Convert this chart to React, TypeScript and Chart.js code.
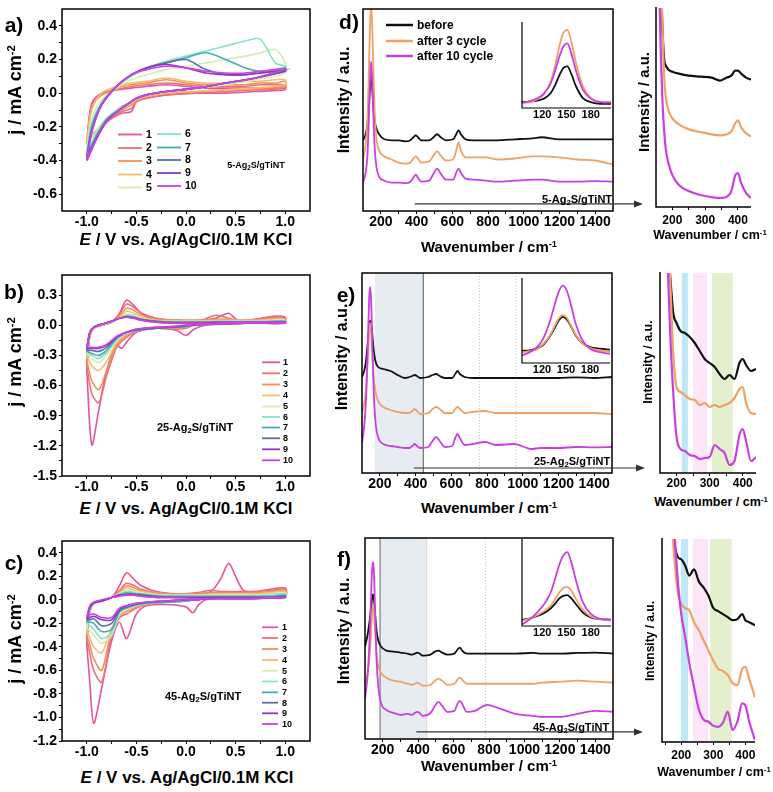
import React, { useEffect, useRef } from 'react';
import { Chart, registerables } from 'chart.js';

Chart.register(...registerables);

const FONT = 'Arial, "Liberation Sans", Helvetica, sans-serif';
Chart.defaults.font.family = FONT;
Chart.defaults.color = '#000';

// ================= CV data =================
const cvCycles = ['1', '2', '3', '4', '5', '6', '7', '8', '9', '10'];
const cvColors = ['#e4559f', '#ef6f78', '#f09257', '#f2bd6c', '#d6ecb0', '#86e3cc', '#44aebd', '#5b6fa3', '#8d35c4', '#d23ee6'];
const cvXTicks = [-1.0, -0.5, 0.0, 0.5, 1.0];
const cvXMinor = [-0.75, -0.25, 0.25, 0.75];
const cvAYTicks = [-0.6, -0.4, -0.2, 0.0, 0.2, 0.4];
const cvAYMinor = [-0.5, -0.3, -0.1, 0.1, 0.3];
const cvBYTicks = [-1.5, -1.2, -0.9, -0.6, -0.3, 0.0, 0.3];
const cvBYMinor = [-1.35, -1.05, -0.75, -0.45, -0.15, 0.15];
const cvCYTicks = [-1.2, -1.0, -0.8, -0.6, -0.4, -0.2, 0.0, 0.2, 0.4];
const cvCYMinor = [-1.1, -0.9, -0.7, -0.5, -0.3, -0.1, 0.1, 0.3];

// panel a (5-Ag2S/gTiNT)
const aEUp = [-1.0, -0.95, -0.85, -0.7, -0.55, -0.4, -0.2, 0.0, 0.2, 0.4, 0.6, 0.75, 0.9, 1.0];
const aEDown = [1.0, 0.7, 0.4, 0.1, -0.2, -0.4, -0.5, -0.55, -0.65, -0.8, -0.9, -1.0];
const aJUp = [
  [-0.28, -0.06, 0.0, 0.02, 0.03, 0.04, 0.05, 0.04, 0.03, 0.03, 0.03, 0.03, 0.03, 0.04],
  [-0.30, -0.07, -0.01, 0.02, 0.04, 0.05, 0.06, 0.05, 0.04, 0.04, 0.04, 0.05, 0.05, 0.05],
  [-0.30, -0.09, -0.01, 0.03, 0.05, 0.06, 0.08, 0.06, 0.05, 0.05, 0.05, 0.06, 0.06, 0.07],
  [-0.28, -0.10, 0.0, 0.04, 0.06, 0.07, 0.09, 0.07, 0.06, 0.06, 0.07, 0.07, 0.08, 0.08],
  [-0.32, -0.15, -0.04, 0.03, 0.08, 0.11, 0.14, 0.16, 0.18, 0.20, 0.22, 0.24, 0.26, 0.18],
  [-0.35, -0.18, -0.06, 0.04, 0.10, 0.15, 0.19, 0.22, 0.25, 0.28, 0.31, 0.32, 0.18, 0.16],
  [-0.37, -0.20, -0.06, 0.04, 0.11, 0.15, 0.18, 0.21, 0.24, 0.20, 0.15, 0.13, 0.14, 0.15],
  [-0.38, -0.22, -0.07, 0.04, 0.11, 0.15, 0.18, 0.20, 0.14, 0.11, 0.11, 0.12, 0.13, 0.14],
  [-0.40, -0.23, -0.07, 0.04, 0.11, 0.15, 0.17, 0.15, 0.12, 0.11, 0.11, 0.12, 0.13, 0.14],
  [-0.40, -0.23, -0.07, 0.04, 0.11, 0.14, 0.16, 0.15, 0.13, 0.12, 0.12, 0.13, 0.14, 0.14],
];
const aJDown = [
  [0.02, 0.01, 0.0, 0.0, -0.01, -0.03, -0.05, -0.11, -0.12, -0.17, -0.22, -0.28],
  [0.03, 0.02, 0.01, 0.0, -0.01, -0.03, -0.05, -0.09, -0.11, -0.17, -0.23, -0.30],
  [0.04, 0.03, 0.02, 0.01, 0.0, -0.02, -0.04, -0.07, -0.10, -0.16, -0.22, -0.30],
  [0.05, 0.03, 0.02, 0.01, 0.0, -0.02, -0.04, -0.06, -0.09, -0.15, -0.22, -0.28],
  [0.12, 0.08, 0.05, 0.03, 0.01, -0.01, -0.03, -0.05, -0.08, -0.15, -0.22, -0.32],
  [0.15, 0.09, 0.06, 0.03, 0.01, -0.01, -0.03, -0.05, -0.08, -0.15, -0.24, -0.35],
  [0.14, 0.09, 0.06, 0.03, 0.01, -0.01, -0.03, -0.05, -0.09, -0.16, -0.25, -0.37],
  [0.13, 0.09, 0.06, 0.03, 0.01, -0.01, -0.03, -0.05, -0.09, -0.16, -0.26, -0.38],
  [0.13, 0.09, 0.06, 0.03, 0.01, -0.01, -0.03, -0.05, -0.09, -0.17, -0.27, -0.40],
  [0.14, 0.09, 0.06, 0.03, 0.01, -0.01, -0.03, -0.05, -0.09, -0.17, -0.27, -0.40],
];

// panel b (25-Ag2S/gTiNT)
const bEUp = [-1.0, -0.97, -0.93, -0.85, -0.75, -0.67, -0.6, -0.53, -0.45, -0.3, -0.1, 0.15, 0.3, 0.43, 0.52, 0.7, 0.88, 1.0];
const bEDown = [1.0, 0.6, 0.2, 0.08, 0.0, -0.1, -0.3, -0.5, -0.6, -0.65, -0.7, -0.8, -0.88, -0.95, -1.0];
const bJUp = [
  [-0.45, -0.10, -0.02, 0.0, 0.03, 0.12, 0.25, 0.20, 0.12, 0.07, 0.05, 0.05, 0.07, 0.12, 0.05, 0.06, 0.09, 0.08],
  [-0.40, -0.12, -0.03, 0.0, 0.03, 0.11, 0.21, 0.18, 0.12, 0.07, 0.05, 0.05, 0.10, 0.07, 0.05, 0.06, 0.08, 0.07],
  [-0.35, -0.12, -0.03, 0.0, 0.03, 0.09, 0.17, 0.15, 0.10, 0.06, 0.05, 0.05, 0.06, 0.06, 0.05, 0.05, 0.07, 0.06],
  [-0.30, -0.10, -0.03, 0.0, 0.03, 0.08, 0.14, 0.12, 0.08, 0.05, 0.04, 0.04, 0.05, 0.05, 0.05, 0.05, 0.06, 0.06],
  [-0.28, -0.09, -0.02, 0.01, 0.03, 0.07, 0.11, 0.10, 0.07, 0.04, 0.04, 0.04, 0.04, 0.04, 0.04, 0.04, 0.05, 0.05],
  [-0.27, -0.08, -0.02, 0.01, 0.03, 0.07, 0.10, 0.09, 0.06, 0.04, 0.03, 0.03, 0.04, 0.04, 0.04, 0.04, 0.04, 0.04],
  [-0.26, -0.08, -0.02, 0.01, 0.04, 0.07, 0.09, 0.08, 0.06, 0.04, 0.03, 0.03, 0.03, 0.03, 0.03, 0.03, 0.04, 0.04],
  [-0.25, -0.08, -0.02, 0.01, 0.04, 0.07, 0.085, 0.08, 0.06, 0.04, 0.03, 0.03, 0.03, 0.03, 0.03, 0.03, 0.03, 0.03],
  [-0.23, -0.07, -0.02, 0.01, 0.04, 0.07, 0.08, 0.07, 0.05, 0.03, 0.02, 0.02, 0.03, 0.03, 0.03, 0.03, 0.03, 0.03],
  [-0.22, -0.07, -0.02, 0.01, 0.04, 0.07, 0.08, 0.07, 0.05, 0.03, 0.02, 0.02, 0.02, 0.03, 0.03, 0.03, 0.03, 0.03],
];
const bJDown = [
  [0.03, 0.02, 0.0, -0.04, -0.10, -0.05, -0.03, -0.07, -0.17, -0.23, -0.20, -0.45, -0.85, -1.19, -0.45],
  [0.03, 0.02, 0.01, 0.0, -0.03, -0.04, -0.03, -0.06, -0.12, -0.16, -0.22, -0.50, -0.77, -0.68, -0.40],
  [0.03, 0.02, 0.01, 0.0, -0.02, -0.03, -0.03, -0.06, -0.10, -0.14, -0.20, -0.45, -0.64, -0.55, -0.35],
  [0.03, 0.02, 0.01, 0.0, -0.01, -0.02, -0.03, -0.05, -0.09, -0.12, -0.17, -0.36, -0.45, -0.40, -0.30],
  [0.03, 0.02, 0.01, 0.0, -0.01, -0.02, -0.03, -0.05, -0.08, -0.11, -0.15, -0.30, -0.37, -0.33, -0.28],
  [0.03, 0.02, 0.01, 0.0, -0.01, -0.02, -0.03, -0.05, -0.08, -0.10, -0.14, -0.27, -0.33, -0.30, -0.27],
  [0.03, 0.02, 0.01, 0.0, -0.01, -0.02, -0.03, -0.05, -0.07, -0.10, -0.13, -0.25, -0.30, -0.28, -0.26],
  [0.02, 0.02, 0.01, 0.0, -0.01, -0.02, -0.03, -0.05, -0.07, -0.09, -0.12, -0.22, -0.26, -0.25, -0.25],
  [0.02, 0.02, 0.01, 0.0, 0.0, -0.01, -0.02, -0.04, -0.07, -0.09, -0.12, -0.20, -0.23, -0.23, -0.23],
  [0.02, 0.02, 0.01, 0.0, 0.0, -0.01, -0.02, -0.04, -0.07, -0.09, -0.11, -0.19, -0.22, -0.22, -0.22],
];

// panel c (45-Ag2S/gTiNT)
const cEUp = [-1.0, -0.97, -0.93, -0.85, -0.75, -0.67, -0.6, -0.52, -0.45, -0.3, -0.1, 0.1, 0.25, 0.35, 0.43, 0.5, 0.58, 0.7, 0.85, 1.0];
const cEDown = [1.0, 0.6, 0.2, 0.12, 0.07, 0.0, -0.2, -0.4, -0.5, -0.6, -0.67, -0.75, -0.85, -0.93, -0.97, -1.0];
const cJUp = [
  [-0.38, -0.10, -0.03, -0.01, 0.02, 0.12, 0.23, 0.17, 0.12, 0.07, 0.05, 0.05, 0.07, 0.18, 0.31, 0.20, 0.08, 0.07, 0.09, 0.10],
  [-0.33, -0.10, -0.03, -0.01, 0.02, 0.08, 0.14, 0.12, 0.09, 0.06, 0.05, 0.06, 0.08, 0.07, 0.07, 0.07, 0.07, 0.07, 0.08, 0.09],
  [-0.30, -0.10, -0.03, -0.01, 0.02, 0.07, 0.12, 0.10, 0.08, 0.06, 0.05, 0.05, 0.06, 0.06, 0.06, 0.06, 0.06, 0.06, 0.07, 0.08],
  [-0.27, -0.10, -0.03, -0.01, 0.02, 0.06, 0.10, 0.08, 0.07, 0.05, 0.04, 0.04, 0.05, 0.05, 0.05, 0.05, 0.05, 0.05, 0.06, 0.07],
  [-0.24, -0.09, -0.03, -0.01, 0.02, 0.05, 0.08, 0.07, 0.06, 0.04, 0.04, 0.04, 0.04, 0.04, 0.04, 0.04, 0.04, 0.04, 0.05, 0.06],
  [-0.20, -0.08, -0.03, -0.01, 0.02, 0.05, 0.07, 0.06, 0.05, 0.04, 0.03, 0.03, 0.03, 0.03, 0.03, 0.03, 0.03, 0.03, 0.04, 0.05],
  [-0.19, -0.08, -0.03, -0.01, 0.02, 0.04, 0.06, 0.05, 0.05, 0.03, 0.03, 0.03, 0.03, 0.03, 0.03, 0.03, 0.03, 0.03, 0.03, 0.04],
  [-0.17, -0.07, -0.03, -0.01, 0.02, 0.04, 0.05, 0.05, 0.04, 0.03, 0.02, 0.02, 0.02, 0.02, 0.02, 0.02, 0.02, 0.02, 0.02, 0.03],
  [-0.16, -0.06, -0.02, -0.01, 0.02, 0.04, 0.04, 0.04, 0.03, 0.02, 0.02, 0.02, 0.02, 0.02, 0.02, 0.02, 0.02, 0.02, 0.02, 0.02],
  [-0.15, -0.05, -0.02, 0.0, 0.02, 0.03, 0.04, 0.04, 0.03, 0.02, 0.02, 0.01, 0.01, 0.01, 0.01, 0.01, 0.01, 0.01, 0.02, 0.02],
];
const cJDown = [
  [0.03, 0.02, 0.0, -0.05, -0.11, -0.06, -0.04, -0.05, -0.12, -0.33, -0.19, -0.35, -0.75, -1.05, -0.70, -0.38],
  [0.03, 0.02, 0.01, 0.0, 0.0, -0.01, -0.02, -0.04, -0.07, -0.12, -0.15, -0.30, -0.70, -0.60, -0.45, -0.33],
  [0.03, 0.02, 0.01, 0.0, 0.0, -0.01, -0.02, -0.04, -0.06, -0.10, -0.14, -0.26, -0.60, -0.50, -0.38, -0.30],
  [0.03, 0.02, 0.01, 0.0, 0.0, -0.01, -0.02, -0.03, -0.05, -0.09, -0.13, -0.24, -0.45, -0.40, -0.32, -0.27],
  [0.02, 0.02, 0.01, 0.0, 0.0, -0.01, -0.02, -0.03, -0.05, -0.08, -0.12, -0.30, -0.37, -0.30, -0.26, -0.24],
  [0.02, 0.02, 0.01, 0.0, 0.0, -0.01, -0.02, -0.03, -0.05, -0.07, -0.11, -0.28, -0.33, -0.25, -0.22, -0.20],
  [0.02, 0.02, 0.01, 0.0, 0.0, -0.01, -0.02, -0.03, -0.04, -0.07, -0.10, -0.25, -0.27, -0.20, -0.19, -0.19],
  [0.02, 0.01, 0.01, 0.0, 0.0, 0.0, -0.01, -0.02, -0.04, -0.06, -0.09, -0.20, -0.22, -0.16, -0.17, -0.17],
  [0.02, 0.01, 0.01, 0.0, 0.0, 0.0, -0.01, -0.02, -0.03, -0.05, -0.08, -0.17, -0.17, -0.14, -0.15, -0.16],
  [0.02, 0.01, 0.01, 0.0, 0.0, 0.0, -0.01, -0.02, -0.03, -0.05, -0.07, -0.15, -0.15, -0.12, -0.13, -0.15],
];

// ================= Raman data =================
const ramanSeries = ['before', 'after 3 cycle', 'after 10 cycle'];
const ramanColors = ['#111111', '#f0a264', '#c93fe3'];
const ramanTicks = [200, 400, 600, 800, 1000, 1200, 1400];
const ramanMinor = [300, 500, 700, 900, 1100, 1300];
const insetTicks = [120, 150, 180];
const zoomTicks = [200, 300, 400];
const zoomMinor = [250, 350];
const zoomMinorF = [150, 250, 350];

const ramanX = [100, 115, 125, 133, 140, 145, 150, 157, 165, 175, 190, 220, 260, 300, 340, 365, 382, 395, 408, 425, 470, 495, 515, 535, 565, 605, 622, 635, 648, 675, 720, 790, 850, 950, 1050, 1100, 1200, 1300, 1400, 1500];
const dBefore = [35, 38, 43, 52, 62, 66, 63, 53, 45, 41, 38, 35.5, 35, 35, 34.5, 35, 36.5, 37.5, 36.5, 35, 35, 36.5, 38, 36.5, 35, 35.5, 38, 40, 38, 35.5, 35, 35, 35, 35.5, 36, 36.5, 35.5, 35.5, 35.5, 35.5];
const dCycle3 = [26, 33, 45, 70, 94, 101, 96, 74, 50, 36, 30, 27, 25.5, 24, 23.5, 24, 26, 27, 26, 24, 24.5, 27.5, 29.5, 27.5, 25, 25.5, 30, 34, 30, 26.5, 26.5, 26.5, 25.5, 26, 27, 27, 26.5, 25.5, 25, 23];
const dCycle10 = [14, 19, 28, 46, 66, 74, 68, 50, 32, 22, 17, 15, 14, 14, 13.8, 14.5, 16.5, 18, 16.5, 14.5, 15, 18.5, 21, 18.5, 15.5, 15.5, 19, 21, 19, 16, 15.5, 15, 14.5, 15, 15.5, 15.5, 14.5, 14.5, 14.8, 14.5];
const eBefore = [48, 52, 58, 66, 73, 76, 75, 70, 62, 56, 53, 52, 51, 49, 47.5, 48, 48.5, 49, 48.5, 47.5, 48, 49, 49.5, 48.5, 47.5, 47.5, 49.5, 51, 49.5, 48, 47.5, 47.5, 47.5, 47.5, 47.5, 47.5, 47.5, 47.8, 47.5, 48];
const eCycle3 = [30, 36, 45, 58, 70, 75, 72, 60, 48, 41, 36, 33, 31.5, 30.5, 30, 30, 31, 32, 31, 29.5, 30, 32, 33, 32, 30, 30, 32, 33, 32, 30, 30.5, 31, 30, 30, 30, 30, 30, 30, 30, 29.5];
const eCycle10 = [15, 26, 42, 66, 87, 93, 88, 68, 42, 26, 18, 14.5, 13.5, 13, 12.5, 12.5, 13.5, 14.5, 13.5, 12.5, 13, 16, 18, 16, 13, 13.5, 17.5, 19.5, 17.5, 14, 14.5, 15.5, 14, 14.5, 12, 12.5, 12.5, 13, 12.8, 13];
const fBefore = [46, 52, 58, 64, 70, 72, 70, 62, 54, 49, 46, 44, 43.5, 43, 42.5, 42, 42.5, 43, 42.5, 41.5, 42, 43.5, 44, 43, 42, 42.5, 44.5, 45.5, 44, 42.5, 42.5, 42.5, 42.5, 42.5, 42.8, 42.5, 42.5, 42.8, 43, 42.5];
const fCycle3 = [27.5, 33, 40, 51, 62, 67, 64, 54, 43, 36, 33, 30.5, 29, 28.5, 27.5, 27, 27.5, 28, 27.5, 26.5, 27, 29, 30, 29, 27, 27.5, 29.5, 30.5, 29.5, 27.5, 27.5, 27.5, 27.5, 27.5, 27.5, 28, 28.5, 29, 28.5, 28];
const fCycle10 = [20, 32, 48, 68, 84, 88, 84, 64, 40, 26, 18, 14.5, 13, 12, 12.5, 12, 13, 13.5, 13, 11.5, 13, 16.5, 18.5, 16.5, 13.5, 14, 17.5, 19, 17.5, 13.5, 14, 17, 15.5, 12.5, 11.5, 11, 11, 12.5, 14, 13.5];

// insets (peak ~145-150 cm-1)
const insetX = [95, 105, 115, 122, 130, 136, 141, 146, 151, 156, 162, 170, 180, 192, 205];
const dInBefore = [7, 7.5, 9, 11, 17, 27, 38, 47, 49, 40, 25, 12, 7, 5, 5];
const dInCycle3 = [6, 7, 11, 16, 30, 50, 72, 88, 92, 78, 52, 26, 12, 7, 6.5];
const dInCycle10 = [6, 8, 12, 17, 28, 44, 60, 72, 76, 64, 43, 22, 11, 7, 6.5];
const eInBefore = [14.5, 15, 18, 22, 32, 42, 51, 55, 52, 44, 33, 24, 19, 17, 16];
const eInCycle3 = [13, 14, 17, 23, 33, 44, 53, 57, 54, 45, 34, 24, 18, 15, 13.5];
const eInCycle10 = [9, 13, 20, 30, 50, 70, 85, 92, 86, 70, 47, 28, 17, 13, 11];
const fInBefore = [7, 9, 12, 15, 20, 26, 32, 35, 36, 32, 25, 16, 10, 8, 7.5];
const fInCycle3 = [6, 9, 13, 17, 23, 31, 39, 44, 45.5, 41, 31, 19, 11, 8, 7];
const fInCycle10 = [2, 8, 17, 25, 38, 55, 71, 82, 86, 74, 52, 28, 14, 8, 7];

// zoomed right panels
const zoomXd = [150, 160, 165, 170, 175, 180, 188, 200, 220, 250, 285, 320, 345, 365, 380, 392, 400, 410, 425, 440];
const dZoomBefore = [140, 125, 110, 88, 74, 71, 69, 68, 67, 66, 65.5, 65, 63.5, 65, 66, 68.5, 68.5, 67, 65, 64];
const dZoomCycle3 = [200, 150, 120, 90, 65, 55, 48.5, 44.5, 41.5, 39, 37.7, 36.5, 36, 36.5, 38, 42, 43.5, 40, 37, 35.5];
const dZoomCycle10 = [200, 110, 75, 52, 38, 29, 22, 16, 11, 8, 6, 5, 4.5, 5, 8, 16, 17, 12, 7, 4.5];
const zoomXe = [150, 160, 170, 180, 190, 200, 212, 225, 240, 255, 270, 285, 300, 315, 330, 345, 360, 375, 390, 400, 410, 425, 440];
const eZoomBefore = [200, 150, 120, 100, 80, 75, 71, 70, 68, 65, 61, 57, 55, 53, 49.5, 47, 49, 47, 55, 57, 54, 51, 52];
const eZoomCycle3 = [200, 160, 130, 100, 60, 43, 40.5, 39, 37, 36.5, 34, 35, 33, 34, 33, 34, 35, 37.5, 42, 43, 35, 30, 29.5];
const eZoomCycle10 = [200, 170, 120, 73, 40, 18, 12, 11, 9, 8.5, 7, 7.5, 8, 14, 12, 10, 4, 6, 19, 22, 16, 6, 8];
const zoomXf = [140, 150, 160, 170, 180, 190, 200, 212, 225, 240, 255, 270, 285, 300, 315, 330, 345, 360, 375, 390, 400, 412, 430];
const fZoomBefore = [200, 160, 125, 105, 96, 91, 90, 87, 82, 85, 79, 76, 72, 66, 64.5, 63, 61.5, 60, 60.5, 63, 60, 59, 57.5];
const fZoomCycle3 = [200, 170, 140, 110, 88, 73, 68, 66, 65, 59, 55, 50, 45, 40, 36, 35, 33, 29, 28, 36, 37, 31, 22];
const fZoomCycle10 = [200, 170, 140, 115, 100, 78, 63, 52, 39, 27, 16, 11, 10, 8, 7.5, 9.5, 15, 6, 10, 19, 18, 10, 1];

// shaded bands (cm-1)
const bandCyanE = [216, 234];
const bandPinkE = [250, 292];
const bandGreenE = [307, 370];
const bandCyanF = [199, 221];
const bandPinkF = [236, 284];
const bandGreenF = [290, 357];
const grayE = [172, 443];
const grayF = [185, 448];

// ================= helpers =================
type Box = { l: number; t: number; r: number; b: number };
type Deco = {
  frame?: 'box' | 'L';
  frameWidth?: number;
  bands?: { from: number; to: number; color: string }[];
  vlines?: { at: number; color: string; width?: number; dash?: number[] }[];
  legend?: { pos: number[][]; len: number; gap: number; font: string; lw: number };
  arrow?: { from: number; y: number; extra: number };
};
type Spec = {
  plot: Box;
  m: [number, number, number, number];
  x: { min: number; max: number; major: number[]; minor?: number[]; fmt: (v: number) => string; font: number; pad: number; tick: number };
  y: { min: number; max: number; show: boolean; major?: number[]; minor?: number[] };
  datasets: any[];
  deco: Deco;
};

function makeDeco(d: Deco, ox: number, oy: number) {
  return {
    id: 'deco',
    beforeDatasetsDraw(chart: any) {
      const { ctx, chartArea: ca } = chart;
      const xs = chart.scales.x;
      ctx.save();
      for (const b of d.bands || []) {
        const x0 = xs.getPixelForValue(b.from);
        const x1 = xs.getPixelForValue(b.to);
        ctx.fillStyle = b.color;
        ctx.fillRect(x0, ca.top, x1 - x0, ca.bottom - ca.top);
      }
      for (const l of d.vlines || []) {
        const px = xs.getPixelForValue(l.at);
        ctx.strokeStyle = l.color;
        ctx.lineWidth = l.width || 1;
        ctx.setLineDash(l.dash || []);
        ctx.beginPath();
        ctx.moveTo(px, ca.top);
        ctx.lineTo(px, ca.bottom);
        ctx.stroke();
      }
      ctx.restore();
    },
    afterDraw(chart: any) {
      const { ctx, chartArea: ca } = chart;
      ctx.save();
      ctx.strokeStyle = '#000';
      ctx.lineWidth = d.frameWidth || 1.5;
      if (d.frame === 'box') {
        ctx.strokeRect(ca.left, ca.top, ca.right - ca.left, ca.bottom - ca.top);
      } else if (d.frame === 'L') {
        ctx.beginPath();
        ctx.moveTo(ca.left, ca.top - 1);
        ctx.lineTo(ca.left, ca.bottom);
        ctx.lineTo(ca.right, ca.bottom);
        ctx.stroke();
      }
      if (d.legend) {
        const L = d.legend;
        ctx.font = L.font;
        ctx.textBaseline = 'middle';
        ctx.textAlign = 'left';
        chart.data.datasets.forEach((ds: any, i: number) => {
          const p = L.pos[i];
          if (!p) return;
          const px = p[0] - ox;
          const py = p[1] - oy;
          ctx.strokeStyle = ds.borderColor;
          ctx.lineWidth = L.lw;
          ctx.beginPath();
          ctx.moveTo(px, py);
          ctx.lineTo(px + L.len, py);
          ctx.stroke();
          ctx.fillStyle = '#000';
          ctx.fillText(ds.label, px + L.len + L.gap, py + 0.5);
        });
      }
      if (d.arrow) {
        const xs = chart.scales.x;
        const ys = chart.scales.y;
        const x0 = xs.getPixelForValue(d.arrow.from);
        const x1 = ca.right + d.arrow.extra;
        const y = ys.getPixelForValue(d.arrow.y);
        ctx.strokeStyle = '#333';
        ctx.fillStyle = '#333';
        ctx.lineWidth = 1.2;
        ctx.beginPath();
        ctx.moveTo(x0, y);
        ctx.lineTo(x1 - 6, y);
        ctx.stroke();
        ctx.beginPath();
        ctx.moveTo(x1, y);
        ctx.lineTo(x1 - 9, y - 3.5);
        ctx.lineTo(x1 - 9, y + 3.5);
        ctx.closePath();
        ctx.fill();
      }
      ctx.restore();
    },
  };
}

function tickList(a: number[], b: number[] = []) {
  return [...a, ...b].sort((p, q) => p - q).map((v) => ({ value: v }));
}

function buildConfig(s: Spec, ox: number, oy: number) {
  const xMaj = new Set(s.x.major);
  const yMaj = new Set(s.y.major || []);
  const yAxis = s.y.show
    ? {
        type: 'linear',
        min: s.y.min,
        max: s.y.max,
        afterBuildTicks: (ax: any) => {
          ax.ticks = tickList(s.y.major || [], s.y.minor || []);
        },
        afterFit: (ax: any) => {
          ax.width = s.m[0];
        },
        ticks: {
          autoSkip: false,
          padding: 2,
          color: '#000',
          font: { size: 14, weight: 'bold', family: FONT },
          callback: (v: number) => (yMaj.has(v) ? v.toFixed(1) : ''),
        },
        grid: { display: true, drawOnChartArea: false, drawTicks: true, tickLength: 3, color: '#000', lineWidth: 1 },
        border: { display: false },
      }
    : { type: 'linear', display: false, min: s.y.min, max: s.y.max };
  return {
    type: 'line',
    data: { datasets: s.datasets },
    options: {
      animation: false,
      responsive: false,
      maintainAspectRatio: false,
      events: [],
      layout: { padding: { left: s.y.show ? 0 : s.m[0], top: s.m[1], right: s.m[2], bottom: 0 } },
      plugins: { legend: { display: false }, tooltip: { enabled: false }, title: { display: false } },
      elements: { point: { radius: 0 } },
      scales: {
        x: {
          type: 'linear',
          min: s.x.min,
          max: s.x.max,
          afterBuildTicks: (ax: any) => {
            ax.ticks = tickList(s.x.major, s.x.minor || []);
          },
          afterFit: (ax: any) => {
            ax.height = s.m[3];
          },
          ticks: {
            autoSkip: false,
            maxRotation: 0,
            minRotation: 0,
            padding: s.x.pad,
            color: '#000',
            font: { size: s.x.font, weight: 'bold', family: FONT },
            callback: (v: number) => (xMaj.has(v) ? s.x.fmt(v) : ''),
          },
          grid: {
            display: s.x.tick > 0,
            drawOnChartArea: false,
            drawTicks: s.x.tick > 0,
            tickLength: s.x.tick,
            color: '#000',
            lineWidth: 1,
          },
          border: { display: false },
        },
        y: yAxis,
      },
    },
    plugins: [makeDeco(s.deco, ox, oy)],
  };
}

function ChartCanvas({ spec }: { spec: Spec }) {
  const ref = useRef<HTMLCanvasElement | null>(null);
  const left = spec.plot.l - spec.m[0];
  const top = spec.plot.t - spec.m[1];
  const width = spec.plot.r - spec.plot.l + spec.m[0] + spec.m[2];
  const height = spec.plot.b - spec.plot.t + spec.m[1] + spec.m[3];
  useEffect(() => {
    if (!ref.current) return;
    const chart = new Chart(ref.current, buildConfig(spec, left, top) as any);
    return () => chart.destroy();
  }, []);
  return (
    <canvas
      ref={ref}
      width={width}
      height={height}
      style={{ position: 'absolute', left, top, width, height }}
    />
  );
}

function cvDatasets(eUp: number[], eDown: number[], up: number[][], down: number[][]) {
  return up.map((ys, i) => ({
    label: cvCycles[i],
    data: [...eUp.map((e, k) => ({ x: e, y: ys[k] })), ...eDown.map((e, k) => ({ x: e, y: down[i][k] }))],
    borderColor: cvColors[i],
    borderWidth: 1.6,
    pointRadius: 0,
    tension: 0.3,
    fill: false,
    order: up.length - i,
  }));
}

function ramanDatasets(X: number[], rows: number[][], width: number) {
  return rows.map((ys, i) => ({
    label: ramanSeries[i],
    data: X.map((x, k) => ({ x, y: ys[k] })),
    borderColor: ramanColors[i],
    borderWidth: width,
    pointRadius: 0,
    cubicInterpolationMode: 'monotone',
    fill: false,
    order: rows.length - i,
  }));
}

const fmtV = (v: number) => v.toFixed(1);
const fmtInt = (v: number) => String(v);

const CV_M: [number, number, number, number] = [45, 12, 4, 22];
const cvX = (): Spec['x'] => ({ min: -1.25, max: 1.25, major: cvXTicks, minor: cvXMinor, fmt: fmtV, font: 14, pad: 0, tick: 3 });
const legendFontBig = `bold 10.5px ${FONT}`;
const legendFontSmall = `bold 9px ${FONT}`;

const specA: Spec = {
  plot: { l: 62, t: 9, r: 310, b: 211 },
  m: CV_M,
  x: cvX(),
  y: { min: -0.7, max: 0.5, show: true, major: cvAYTicks, minor: cvAYMinor },
  datasets: cvDatasets(aEUp, aEDown, aJUp, aJDown),
  deco: {
    frame: 'box',
    legend: {
      pos: [[118, 134.5], [118, 148], [118, 161], [118, 174.5], [118, 187.5], [157, 134], [157, 147.5], [157, 160], [157, 173], [157, 186]],
      len: 24, gap: 4, font: legendFontBig, lw: 1.8,
    },
  },
};
const specB: Spec = {
  plot: { l: 62, t: 275, r: 310, b: 476 },
  m: CV_M,
  x: cvX(),
  y: { min: -1.5, max: 0.5, show: true, major: cvBYTicks, minor: cvBYMinor },
  datasets: cvDatasets(bEUp, bEDown, bJUp, bJDown),
  deco: {
    frame: 'box',
    legend: {
      pos: [362.3, 373.3, 384.5, 395.5, 406.5, 417, 427.5, 438.3, 449.3, 460.3].map((y) => [262, y]),
      len: 18, gap: 3, font: legendFontSmall, lw: 1.8,
    },
  },
};
const specC: Spec = {
  plot: { l: 62, t: 541, r: 310, b: 741 },
  m: CV_M,
  x: cvX(),
  y: { min: -1.2, max: 0.5, show: true, major: cvCYTicks, minor: cvCYMinor },
  datasets: cvDatasets(cEUp, cEDown, cJUp, cJDown),
  deco: {
    frame: 'box',
    legend: {
      pos: [627.3, 638, 649, 660, 670.7, 681.5, 692.3, 702.7, 713.3, 724].map((y) => [262, y]),
      len: 16, gap: 4, font: legendFontSmall, lw: 1.8,
    },
  },
};

const RM: [number, number, number, number] = [4, 3, 37, 22];
const ramanXAxis = (): Spec['x'] => ({ min: 100, max: 1500, major: ramanTicks, minor: ramanMinor, fmt: fmtInt, font: 14, pad: 0, tick: 3 });
const GRAY = 'rgba(212, 220, 232, 0.55)';

const specD: Spec = {
  plot: { l: 363, t: 9, r: 613, b: 211 },
  m: RM,
  x: ramanXAxis(),
  y: { min: 0, max: 100, show: false },
  datasets: ramanDatasets(ramanX, [dBefore, dCycle3, dCycle10], 1.8),
  deco: {
    frame: 'box',
    legend: { pos: [[386, 25], [386, 41], [386, 56]], len: 27, gap: 4, font: `bold 12px ${FONT}`, lw: 2.5 },
    arrow: { from: 390, y: 3.5, extra: 30 },
  },
};
const specE: Spec = {
  plot: { l: 362, t: 273, r: 612, b: 473 },
  m: RM,
  x: ramanXAxis(),
  y: { min: 0, max: 100, show: false },
  datasets: ramanDatasets(ramanX, [eBefore, eCycle3, eCycle10], 1.8),
  deco: {
    frame: 'box',
    bands: [{ from: grayE[0], to: grayE[1], color: GRAY }],
    vlines: [
      { at: grayE[1], color: '#555', width: 1 },
      { at: 757, color: '#bdbdbd', width: 1, dash: [1, 2] },
      { at: 962, color: '#bdbdbd', width: 1, dash: [1, 2] },
    ],
    arrow: { from: 390, y: 2.5, extra: 33 },
  },
};
const specF: Spec = {
  plot: { l: 365, t: 538, r: 613, b: 739 },
  m: RM,
  x: ramanXAxis(),
  y: { min: 0, max: 100, show: false },
  datasets: ramanDatasets(ramanX, [fBefore, fCycle3, fCycle10], 1.8),
  deco: {
    frame: 'box',
    bands: [{ from: grayF[0], to: grayF[1], color: GRAY }],
    vlines: [
      { at: grayF[0], color: '#666', width: 1 },
      { at: grayF[1], color: '#d0d0d0', width: 0.8 },
      { at: 780, color: '#bdbdbd', width: 1, dash: [1, 2] },
    ],
    arrow: { from: 390, y: 3.5, extra: 30 },
  },
};

const IM: [number, number, number, number] = [3, 3, 3, 14];
const insetXAxis = (): Spec['x'] => ({ min: 95, max: 205, major: insetTicks, fmt: fmtInt, font: 11, pad: 0, tick: 0 });
const specDIn: Spec = {
  plot: { l: 522, t: 23, r: 611, b: 108 }, m: IM, x: insetXAxis(), y: { min: 0, max: 100, show: false },
  datasets: ramanDatasets(insetX, [dInBefore, dInCycle3, dInCycle10], 1.8),
  deco: { frame: 'L', frameWidth: 1.2 },
};
const specEIn: Spec = {
  plot: { l: 522, t: 279, r: 610, b: 363 }, m: IM, x: insetXAxis(), y: { min: 0, max: 100, show: false },
  datasets: ramanDatasets(insetX, [eInBefore, eInCycle3, eInCycle10], 1.8),
  deco: { frame: 'L', frameWidth: 1.2 },
};
const specFIn: Spec = {
  plot: { l: 522, t: 540, r: 611, b: 626 }, m: IM, x: insetXAxis(), y: { min: 0, max: 100, show: false },
  datasets: ramanDatasets(insetX, [fInBefore, fInCycle3, fInCycle10], 1.8),
  deco: { frame: 'L', frameWidth: 1.2 },
};

const ZM: [number, number, number, number] = [4, 2, 14, 20];
const CYAN = 'rgba(150, 215, 240, 0.6)';
const PINK = 'rgba(250, 205, 240, 0.5)';
const GREEN = 'rgba(214, 232, 178, 0.65)';
const specDZ: Spec = {
  plot: { l: 656, t: 8, r: 751, b: 207 }, m: ZM,
  x: { min: 150, max: 440, major: zoomTicks, minor: zoomMinor, fmt: fmtInt, font: 12, pad: 3, tick: 3 },
  y: { min: 0, max: 100, show: false },
  datasets: ramanDatasets(zoomXd, [dZoomBefore, dZoomCycle3, dZoomCycle10], 2.2),
  deco: { frame: 'L' },
};
const specEZ: Spec = {
  plot: { l: 660, t: 273, r: 756, b: 473 }, m: ZM,
  x: { min: 150, max: 440, major: zoomTicks, minor: zoomMinor, fmt: fmtInt, font: 12, pad: 0, tick: 3 },
  y: { min: 0, max: 100, show: false },
  datasets: ramanDatasets(zoomXe, [eZoomBefore, eZoomCycle3, eZoomCycle10], 2.2),
  deco: {
    frame: 'L',
    bands: [
      { from: bandCyanE[0], to: bandCyanE[1], color: CYAN },
      { from: bandPinkE[0], to: bandPinkE[1], color: PINK },
      { from: bandGreenE[0], to: bandGreenE[1], color: GREEN },
    ],
  },
};
const specFZ: Spec = {
  plot: { l: 662, t: 539, r: 755, b: 742 }, m: ZM,
  x: { min: 140, max: 430, major: zoomTicks, minor: zoomMinorF, fmt: fmtInt, font: 12, pad: 3, tick: 3 },
  y: { min: 0, max: 100, show: false },
  datasets: ramanDatasets(zoomXf, [fZoomBefore, fZoomCycle3, fZoomCycle10], 2.2),
  deco: {
    frame: 'L',
    bands: [
      { from: bandCyanF[0], to: bandCyanF[1], color: CYAN },
      { from: bandPinkF[0], to: bandPinkF[1], color: PINK },
      { from: bandGreenF[0], to: bandGreenF[1], color: GREEN },
    ],
  },
};

// ================= text =================
function T({ x, y, size, rot, children, weight = 'bold' }: { x: number; y: number; size: number; rot?: boolean; children: React.ReactNode; weight?: string }) {
  return (
    <div
      style={{
        position: 'absolute',
        left: x,
        top: y,
        transform: `translate(-50%, -50%)${rot ? ' rotate(-90deg)' : ''}`,
        fontSize: size,
        fontWeight: weight as any,
        fontFamily: FONT,
        whiteSpace: 'nowrap',
        lineHeight: 1,
        color: '#000',
      }}
    >
      {children}
    </div>
  );
}
const Sup = ({ children }: { children: React.ReactNode }) => (
  <span style={{ fontSize: '0.62em', position: 'relative', top: '-0.55em' }}>{children}</span>
);
const Sub = ({ children }: { children: React.ReactNode }) => (
  <span style={{ fontSize: '0.7em', position: 'relative', top: '0.25em' }}>{children}</span>
);
const JTitle = () => (<>j / mA cm<Sup>-2</Sup></>);
const ETitle = () => (<><i>E</i> / V vs. Ag/AgCl/0.1M KCl</>);
const WTitle = () => (<>Wavenumber / cm<Sup>-1</Sup></>);
const Sample = ({ n }: { n: string }) => (<>{n}-Ag<Sub>2</Sub>S/gTiNT</>);

export default function App() {
  const specs = [specA, specB, specC, specD, specE, specF, specDIn, specEIn, specFIn, specDZ, specEZ, specFZ];
  return (
    <div style={{ position: 'absolute', left: 0, top: 0, width: 773, height: 792, background: '#fff', overflow: 'hidden', fontFamily: FONT }}>
      {specs.map((s, i) => (
        <ChartCanvas key={i} spec={s} />
      ))}
      {/* panel letters */}
      <T x={14} y={24} size={21}>a)</T>
      <T x={14} y={291} size={21}>b)</T>
      <T x={14} y={562} size={21}>c)</T>
      <T x={349} y={21} size={21}>d)</T>
      <T x={346} y={294} size={21}>e)</T>
      <T x={344} y={558} size={21}>f)</T>
      {/* CV titles */}
      <T x={15} y={90} size={18} rot><JTitle /></T>
      <T x={15} y={362} size={18} rot><JTitle /></T>
      <T x={15} y={639} size={18} rot><JTitle /></T>
      <T x={186} y={239} size={17}><ETitle /></T>
      <T x={186} y={508} size={17}><ETitle /></T>
      <T x={187} y={777} size={17}><ETitle /></T>
      {/* Raman titles */}
      <T x={344} y={100} size={16} rot>Intensity / a.u.</T>
      <T x={342} y={357} size={16} rot>Intensity / a.u.</T>
      <T x={344} y={631} size={16} rot>Intensity / a.u.</T>
      <T x={489} y={247} size={15}><WTitle /></T>
      <T x={489} y={508} size={15}><WTitle /></T>
      <T x={489} y={766} size={15}><WTitle /></T>
      <T x={643} y={102} size={15} rot>Intensity / a.u.</T>
      <T x={648} y={362} size={12.5} rot>Intensity / a.u.</T>
      <T x={650} y={641} size={12} rot>Intensity / a.u.</T>
      <T x={710} y={235} size={12.5}><WTitle /></T>
      <T x={711} y={502} size={12.5}><WTitle /></T>
      <T x={714} y={772} size={12.5}><WTitle /></T>
      {/* sample labels */}
      <T x={256} y={165} size={9}><Sample n="5" /></T>
      <T x={195} y={427} size={11}><Sample n="25" /></T>
      <T x={203} y={696} size={11}><Sample n="45" /></T>
      <T x={577} y={199} size={11}><Sample n="5" /></T>
      <T x={572} y={461} size={11}><Sample n="25" /></T>
      <T x={571} y={727} size={11}><Sample n="45" /></T>
    </div>
  );
}
